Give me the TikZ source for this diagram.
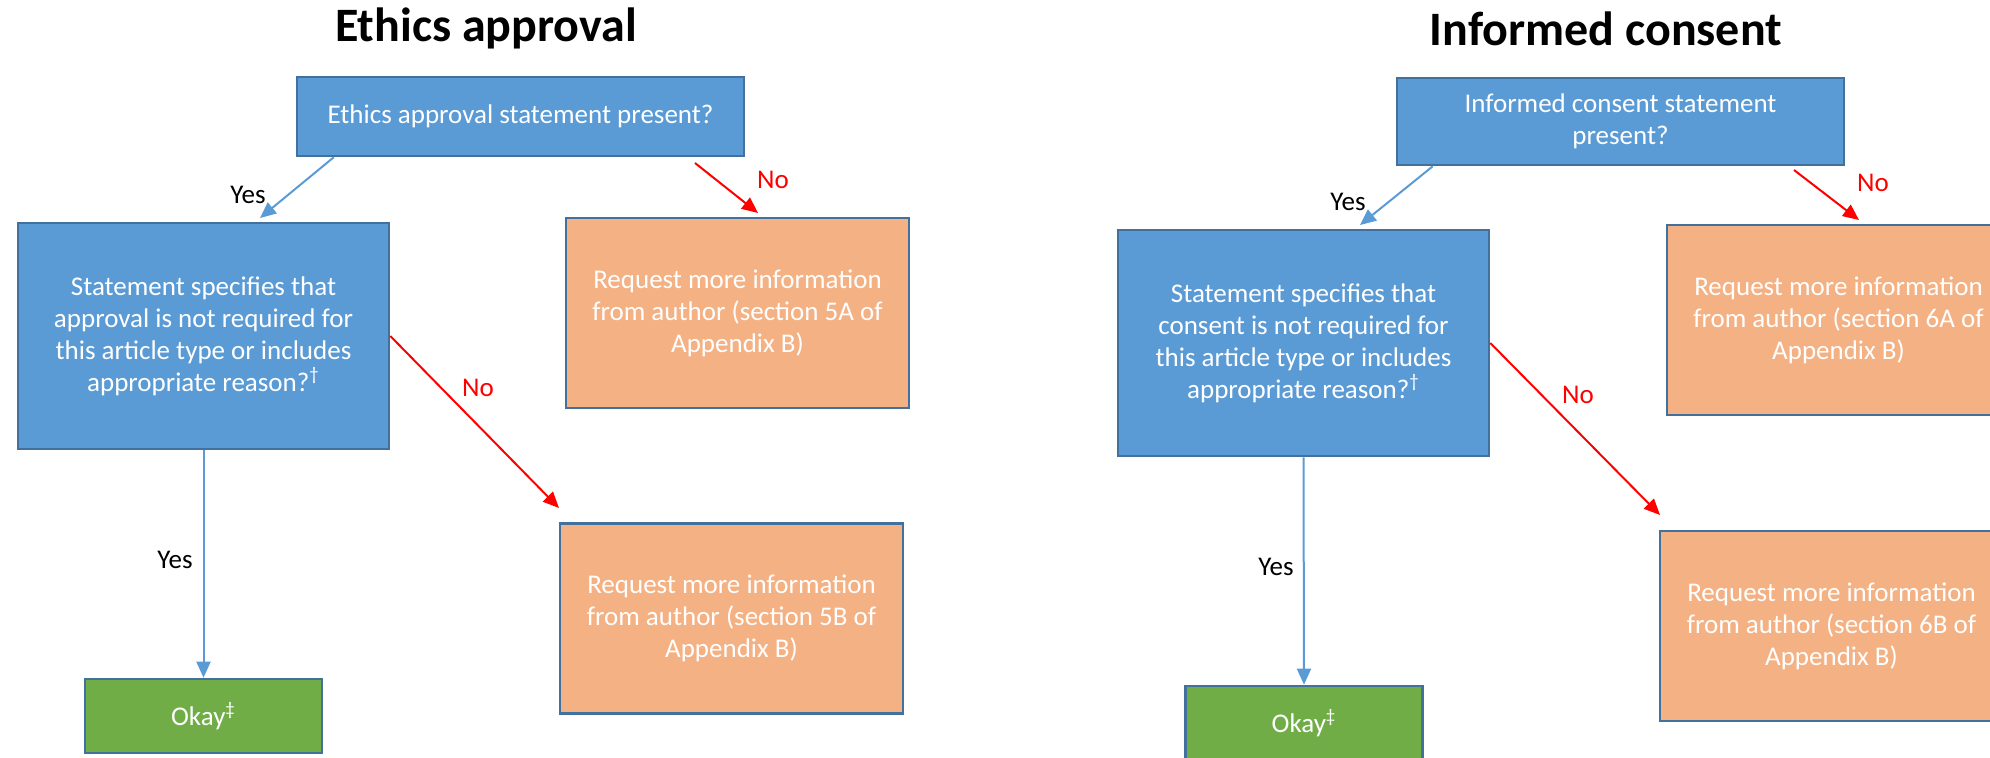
\documentclass[tikz,border=0pt]{standalone}
\usepackage{fontspec}
\setmainfont{Carlito}
\usetikzlibrary{arrows.meta}

\definecolor{boxblue}{HTML}{5B9BD5}
\definecolor{boxedge}{HTML}{41719C}
\definecolor{boxorange}{HTML}{F4B183}
\definecolor{boxgreen}{HTML}{70AD47}
\definecolor{noRed}{HTML}{FF0000}

\tikzset{
    flowbox/.style={draw=boxedge, line width=1.3pt, text=white, align=center,
        inner sep=0pt, font=\fontsize{13.5}{16}\selectfont},
    askbox/.style={flowbox, fill=boxblue, minimum width=223.5pt},
    decbox/.style={flowbox, fill=boxblue, minimum width=185.5pt, minimum height=113pt},
    reqbox/.style={flowbox, fill=boxorange, minimum width=171.5pt, minimum height=95pt},
    okbox/.style={flowbox, fill=boxgreen, minimum width=118.5pt, minimum height=37pt},
    yesline/.style={draw=boxblue, line width=1pt, -{Triangle[length=8pt,width=7pt]}},
    noline/.style={draw=noRed, line width=1pt, -{Triangle[length=8pt,width=7pt]}},
    yeslabel/.style={font=\fontsize{13.5}{16}\selectfont},
    nolabel/.style={text=noRed, font=\fontsize{13.5}{16}\selectfont},
    heading/.style={anchor=base, font=\fontsize{24}{28}\selectfont\bfseries}
}

\begin{document}
\begin{tikzpicture}[x=0.5pt, y=-0.5pt]
    \useasboundingbox (0,0) rectangle (1990,757);
    \clip (0,0) rectangle (1990,757);

    % Ethics approval
    \node[heading] (ethtitle) at (486,41) {Ethics approval};
    \node[askbox, minimum height=39.5pt] (ethask) at (520.5,116.5)
        {Ethics approval statement present?};
    \node[decbox] (ethdec) at (203.5,336)
        {Statement specifies that\\ approval is not required for\\ this article type or includes\\ appropriate reason?\textsuperscript{\textdagger}};
    \node[reqbox] (ethreqA) at (737.5,313)
        {Request more information\\ from author (section 5A of\\ Appendix B)};
    \node[reqbox] (ethreqB) at (731.5,618.5)
        {Request more information\\ from author (section 5B of\\ Appendix B)};
    \node[okbox] (ethok) at (203.5,716) {Okay\textsuperscript{\textdaggerdbl}};

    \coordinate (ethyesEnd) at (260,218);
    \coordinate (ethnoStart) at (695,163);
    \coordinate (ethnoEnd) at (758,213);
    \coordinate (ethnoEndB) at (559,508);

    \draw[yesline] ([xshift=19pt]ethask.south west) -- (ethyesEnd);
    \draw[noline] (ethnoStart) -- (ethnoEnd);
    \draw[noline] (ethdec.east) -- (ethnoEndB);
    \draw[yesline] (ethdec.south) -- (ethok.north);

    \node[yeslabel] (ethyesA) at (248,195) {Yes};
    \node[nolabel] (ethnoA) at (773,180) {No};
    \node[nolabel] (ethnoB) at (478,388) {No};
    \node[yeslabel] (ethyesB) at (175,560) {Yes};

    % Informed consent
    \node[heading] (contitle) at (1606,45) {Informed consent};
    \node[askbox, minimum height=43.5pt] (conask) at (1620.5,121.5)
        {Informed consent statement\\ present?};
    \node[decbox] (condec) at (1303.5,343)
        {Statement specifies that\\ consent is not required for\\ this article type or includes\\ appropriate reason?\textsuperscript{\textdagger}};
    \node[reqbox] (conreqA) at (1838.5,320)
        {Request more information\\ from author (section 6A of\\ Appendix B)};
    \node[reqbox] (conreqB) at (1831.5,626)
        {Request more information\\ from author (section 6B of\\ Appendix B)};
    \node[okbox] (conok) at (1304,723) {Okay\textsuperscript{\textdaggerdbl}};

    \coordinate (conyesEnd) at (1360,225);
    \coordinate (connoStart) at (1794,170);
    \coordinate (connoEnd) at (1859,220);
    \coordinate (connoEndB) at (1660,515);

    \draw[yesline] ([xshift=18.5pt]conask.south west) -- (conyesEnd);
    \draw[noline] (connoStart) -- (connoEnd);
    \draw[noline] (condec.east) -- (connoEndB);
    \draw[yesline] (condec.south) -- (conok.north);

    \node[yeslabel] (conyesA) at (1348,202) {Yes};
    \node[nolabel] (connoA) at (1873,183) {No};
    \node[nolabel] (connoB) at (1578,395) {No};
    \node[yeslabel] (conyesB) at (1276,567) {Yes};
\end{tikzpicture}
\end{document}
